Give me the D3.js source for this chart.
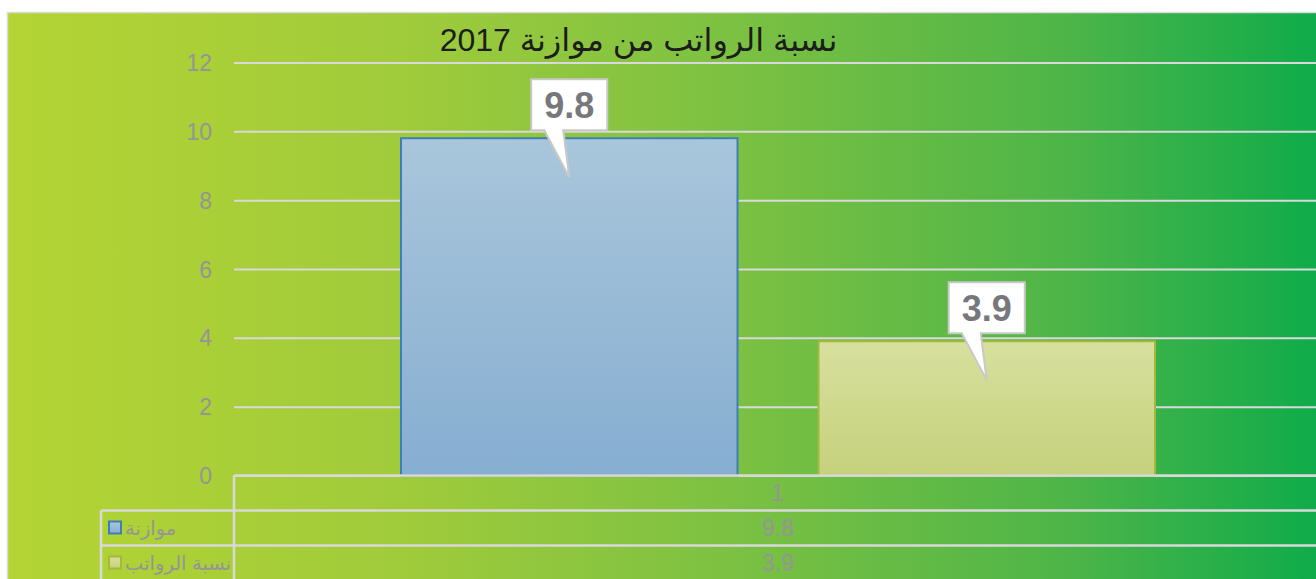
<!DOCTYPE html>
<html>
<head>
<meta charset="utf-8">
<script src="https://cdn.jsdelivr.net/npm/d3@7"></script>
<style>
  html, body { margin: 0; padding: 0; background: #ffffff; overflow: hidden; }
  svg { display: block; font-family: "Liberation Sans", Arial, "DejaVu Sans", sans-serif; }
</style>
</head>
<body>
<svg id="chart" width="1316" height="579"></svg>
<script>
// ---- data ----
const titleText = "نسبة الرواتب من موازنة 2017";
const categories = ["1"];
const seriesNames = ["موازنة", "نسبة الرواتب"];
const seriesValues = [9.8, 3.9];
const yTickValues = [0, 2, 4, 6, 8, 10, 12];

// ---- styles ----
const seriesFillTop = ["#a9c6db", "#d7e09e"];
const seriesFillBottom = ["#86aed1", "#c5d17b"];
const seriesStroke = ["#3f7fb8", "#a3b83c"];
const gridColor = "#d9d9d9";
const labelGrey = "#959595";

const svg = d3.select("#chart");
const W = 1316, H = 579;

const defs = svg.append("defs");
const bg = defs.append("linearGradient").attr("id", "bgGrad")
  .attr("x1", "0%").attr("x2", "100%").attr("y1", "0%").attr("y2", "0%");
[["0%", "#b4d434"], ["30%", "#a0cb3b"], ["55%", "#7cc142"], ["80%", "#4fb548"], ["100%", "#0eab4b"]]
  .forEach(([o, c]) => bg.append("stop").attr("offset", o).attr("stop-color", c));

seriesNames.forEach((s, i) => {
  const g = defs.append("linearGradient").attr("id", "barGrad" + i)
    .attr("x1", "0%").attr("x2", "0%").attr("y1", "0%").attr("y2", "100%");
  g.append("stop").attr("offset", "0%").attr("stop-color", seriesFillTop[i]);
  g.append("stop").attr("offset", "100%").attr("stop-color", seriesFillBottom[i]);
});

// chart background
svg.append("rect")
  .attr("x", 7.5).attr("y", 12.5).attr("width", W).attr("height", H)
  .attr("fill", "url(#bgGrad)")
  .attr("stroke", "#dadada").attr("stroke-width", 1.5);

// scales
const plotLeft = 234, plotRight = 1322;
const y = d3.scaleLinear().domain([0, 12]).range([475.5, 62.5]);
const x0 = d3.scaleBand().domain(categories).range([plotLeft, plotRight]).padding(0);
const x1 = d3.scaleBand().domain(seriesNames).range([0, x0.bandwidth()])
  .paddingInner(0.194).paddingOuter(0.4);

// gridlines (axis-driven)
const yAxis = d3.axisLeft(y).tickValues(yTickValues).tickSize(-(W - plotLeft)).tickPadding(22)
  .tickFormat(d3.format("d"));
const gy = svg.append("g").attr("transform", `translate(${plotLeft},0)`).call(yAxis);
gy.select(".domain").remove();
gy.selectAll(".tick line").attr("stroke", gridColor).attr("stroke-width", 2);
gy.selectAll(".tick text").attr("fill", labelGrey).attr("font-size", 23)
  .attr("font-family", "Liberation Sans, Arial, sans-serif").attr("dy", "0.35em");

// bars
const barG = svg.append("g");
categories.forEach(cat => {
  seriesNames.forEach((s, i) => {
    const v = seriesValues[i];
    barG.append("rect")
      .attr("x", x0(cat) + x1(s))
      .attr("y", y(v))
      .attr("width", x1.bandwidth())
      .attr("height", y(0) - y(v))
      .attr("fill", `url(#barGrad${i})`)
      .attr("stroke", seriesStroke[i]).attr("stroke-width", 2);
  });
});

// axis line & data table lines
const rowH = 35;
const tableTop = y(0);
const legendLeft = 101;
const tl = svg.append("g").attr("stroke", gridColor).attr("stroke-width", 2.5).attr("fill", "none");
tl.append("line").attr("x1", plotLeft).attr("x2", W).attr("y1", tableTop).attr("y2", tableTop);
for (let r = 1; r <= 2; r++) {
  tl.append("line").attr("x1", legendLeft).attr("x2", W)
    .attr("y1", tableTop + r * rowH).attr("y2", tableTop + r * rowH);
}
tl.append("line").attr("x1", plotLeft).attr("x2", plotLeft).attr("y1", tableTop).attr("y2", H);
tl.append("line").attr("x1", legendLeft).attr("x2", legendLeft).attr("y1", tableTop + rowH).attr("y2", H);

// table text
categories.forEach(cat => {
  const cx = x0(cat) + x0.bandwidth() / 2;
  svg.append("text").attr("x", cx).attr("y", tableTop + rowH / 2).attr("dy", "0.35em")
    .attr("text-anchor", "middle").attr("fill", labelGrey).attr("font-size", 23).text(cat);
  seriesNames.forEach((s, i) => {
    svg.append("text").attr("x", cx).attr("y", tableTop + rowH * (i + 1.5)).attr("dy", "0.35em")
      .attr("text-anchor", "middle").attr("fill", labelGrey).attr("font-size", 23)
      .text(String(seriesValues[i]));
  });
});

// legend keys in table
seriesNames.forEach((s, i) => {
  const cy = tableTop + rowH * (i + 1.5);
  svg.append("rect").attr("x", 109).attr("y", cy - 6.5).attr("width", 12).attr("height", 12)
    .attr("fill", `url(#barGrad${i})`).attr("stroke", seriesStroke[i]).attr("stroke-width", 2);
  svg.append("text").attr("x", 125).attr("y", cy).attr("dy", "0.35em")
    .attr("text-anchor", "start").attr("fill", labelGrey).attr("font-size", 19.5)
    .attr("direction", "ltr").text(s);
});

// callout data labels
categories.forEach(cat => {
  seriesNames.forEach((s, i) => {
    const v = seriesValues[i];
    const cx = x0(cat) + x1(s) + x1.bandwidth() / 2;
    const bottom = y(v) - 8;
    const top = bottom - 51;
    const g = svg.append("g");
    const path = g.append("path");
    const t = g.append("text").attr("x", cx).attr("y", top + 39)
      .attr("text-anchor", "middle").attr("font-weight", "bold").attr("font-size", 36)
      .attr("fill", "#77787b").text(String(v));
    const tw = t.node().getComputedTextLength();
    const bw = tw + 26;
    const left = cx - bw / 2, right = cx + bw / 2;
    const tipY = y(v) + 39;
    path.attr("d", `M${left},${top}H${right}V${bottom}H${cx - 6}L${cx},${tipY}L${cx - 25},${bottom}H${left}Z`)
      .attr("fill", "#ffffff").attr("stroke", "#c9c9c9").attr("stroke-width", 2)
      .attr("stroke-linejoin", "miter");
  });
});

// title
svg.append("text").attr("x", 638.5).attr("y", 51)
  .attr("text-anchor", "middle").attr("font-size", 32).attr("fill", "#1c1c1c")
  .text(titleText);
</script>
</body>
</html>
